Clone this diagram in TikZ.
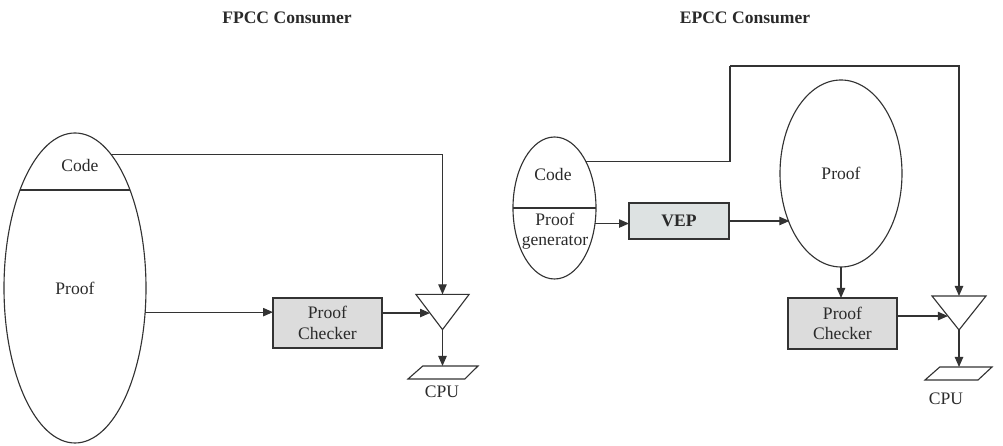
\documentclass[tikz,border=0pt]{standalone}
\usepackage{fontspec}
\setmainfont{Liberation Serif}
\usetikzlibrary{shapes.geometric}
\usetikzlibrary{calc}
\usetikzlibrary{positioning, arrows.meta}

\definecolor{linegray}{HTML}{333333}
\definecolor{textgray}{HTML}{2A2A2A}
\definecolor{boxgray}{HTML}{DCDCDC}
\definecolor{vepgray}{HTML}{DDE2E2}

\begin{document}
\begin{tikzpicture}
        % Define styles for shapes
        \tikzset{
            every node/.style={font=\fontsize{12.5}{14.5}\selectfont, text=textgray, outer sep=0pt},
            blob/.style={draw=linegray, line width=0.8pt, ellipse, inner sep=0pt},
            checker/.style={draw=linegray, line width=0.8pt, fill=boxgray, align=center, minimum width=2.725cm, minimum height=1.25cm},
            gate/.style={minimum width=1.33cm, minimum height=0.88cm, inner sep=0pt},
            cpubox/.style={minimum height=0.325cm, inner sep=0pt},
            arr/.style={draw=linegray, line width=0.8pt, -{Triangle[length=2.5mm, width=2.1mm]}},
            wire/.style={draw=linegray, line width=0.8pt}
        }
        \useasboundingbox (0,0) rectangle (25.075,11.15);

        % Titles
        \node[font=\fontsize{12.5}{14.5}\selectfont\bfseries] (ftitle) at (7.175, 10.7) {FPCC Consumer};
        \node[font=\fontsize{12.5}{14.5}\selectfont\bfseries] (etitle) at (18.625, 10.7) {EPCC Consumer};

        % FPCC side
        \node[blob, minimum width=3.55cm, minimum height=7.75cm] (lell) at (1.875, 3.95) {Proof};
        \node (lcode) at (2.0, 7.025) {Code};
        \draw[wire] ($(lell.center)+(-1.375,2.45)$) -- ($(lell.center)+(1.375,2.45)$);
        \node[checker] (pc1) at (8.1875, 3.075) {Proof\\Checker};
        \node[gate] (tri1) at (11.0625, 3.35) {};
        \draw[wire] (tri1.north west) -- (tri1.north east) -- (tri1.south) -- cycle;
        \node[cpubox, minimum width=1.75cm] (cpu1) at (11.075, 1.8375) {};
        \draw[wire] (cpu1.south west) -- ([xshift=-0.33cm]cpu1.south east)
            -- (cpu1.north east) -- ([xshift=0.37cm]cpu1.north west) -- cycle;
        \node (cpu1txt) at (11.05, 1.35) {CPU};

        % EPCC side
        \node[blob, minimum width=2.075cm, minimum height=3.55cm] (gell) at (13.8625, 5.95) {};
        \draw[wire] (gell.west) -- (gell.east);
        \node (gcode) at (13.825, 6.8) {Code};
        \node[align=center] (ggen) at (13.875, 5.375) {Proof\\generator};
        \node[checker, fill=vepgray, minimum width=2.5cm, minimum height=0.9cm, font=\fontsize{12.5}{14.5}\selectfont\bfseries] (vep) at (16.975, 5.625) {VEP};
        \node[blob, minimum width=3.05cm, minimum height=4.675cm] (pell) at (21.025, 6.8125) {Proof};
        \node[checker, minimum height=1.275cm] (pc2) at (21.0625, 3.0625) {Proof\\Checker};
        \node[gate, minimum width=1.35cm, minimum height=0.85cm] (tri2) at (23.975, 3.325) {};
        \draw[wire] (tri2.north west) -- (tri2.north east) -- (tri2.south) -- cycle;
        \node[cpubox, minimum width=1.675cm] (cpu2) at (23.9625, 1.8125) {};
        \draw[wire] (cpu2.south west) -- ([xshift=-0.35cm]cpu2.south east)
            -- (cpu2.north east) -- ([xshift=0.37cm]cpu2.north west) -- cycle;
        \node (cpu2txt) at (23.65, 1.175) {CPU};
        \coordinate (bend) at (18.25, 9.5);

        % Draw arrows
        \coordinate (in1) at ($(tri1.north west)!0.53!(tri1.south)$);
        \coordinate (in2) at ($(tri2.north west)!0.59!(tri2.south)$);
        \draw[arr] (lell.75) -| (tri1.north);
        \draw[arr] (lell.-19.6) -- (lell.-19.6 -| pc1.west);
        \draw[arr] (pc1.east |- in1) -- (in1);
        \draw[arr] (tri1.south) -- (tri1.south |- cpu1.north);

        \draw[wire] (gell.56.7) -| (bend);
        \draw[arr] (bend) -| (tri2.north);
        \draw[arr] (gell.-21.6) -- (gell.-21.6 -| vep.west);
        \draw[arr] (vep.east) -- (vep.east -| pell.224.2);
        \draw[arr] (pell.south) -- (pell.south |- pc2.north);
        \draw[arr] (pc2.east |- in2) -- (in2);
        \draw[arr] (tri2.south) -- (tri2.south |- cpu2.north);
    \end{tikzpicture}
\end{document}
